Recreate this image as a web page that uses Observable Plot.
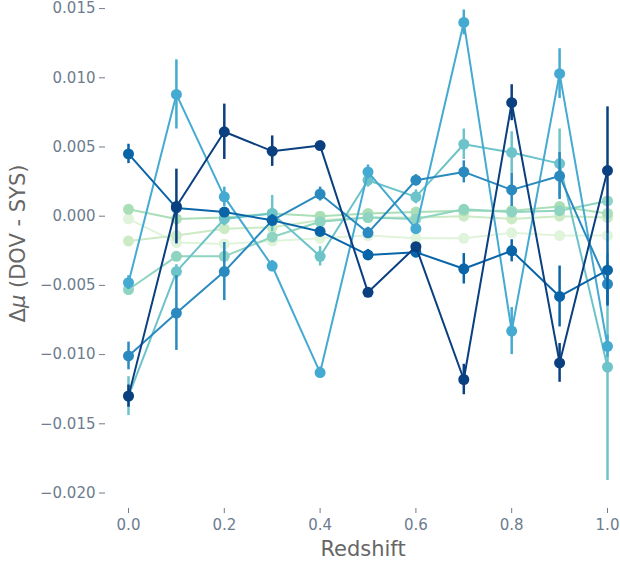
<!DOCTYPE html>
<html><head><meta charset="utf-8">
<script src="https://cdn.jsdelivr.net/npm/d3@7"></script>
<script src="https://cdn.jsdelivr.net/npm/@observablehq/plot@0.6"></script>
<style>body{margin:0;background:#fff;}</style>
</head><body><div id="chart"></div>
<script>
const redshift = [0.0, 0.1, 0.2, 0.3, 0.4, 0.5, 0.6, 0.7, 0.8, 0.9, 1.0];
const xTicks = [0.0, 0.2, 0.4, 0.6, 0.8, 1.0];
const yTicks = [-0.020, -0.015, -0.010, -0.005, 0.000, 0.005, 0.010, 0.015];
const seriesNames = ["s1", "s2", "s3", "s4", "s5", "s6", "s7", "s8", "s9"];
const seriesColors = ["#e0f3db", "#ccebc5", "#aadeb6", "#8fd4c0", "#6cc3c9", "#45aad2", "#2a8abf", "#0a65a8", "#0a3f80"];

const mu_s1 = [-0.0002, -0.0019, -0.0020, -0.0018, -0.0016, -0.0014, -0.0016, -0.0016, -0.0012, -0.0014, -0.0014];
const mu_s2 = [-0.0018, -0.0014, -0.0009, -0.0008, -0.0003, -0.0001, -0.0001, 0.0000, -0.0002, 0.0000, -0.0001];
const mu_s3 = [0.0005, -0.0002, -0.0001, 0.0002, 0.0000, 0.0002, 0.0003, 0.0004, 0.0004, 0.0007, 0.0002];
const mu_s4 = [-0.0053, -0.0029, -0.0029, -0.0015, -0.0004, -0.0001, -0.0002, 0.0005, 0.0003, 0.0004, 0.0011];
const mu_s5 = [-0.0130, -0.0040, -0.0002, 0.0002, -0.0029, 0.0026, 0.0014, 0.0052, 0.0046, 0.0038, -0.0109];
const mu_s6 = [-0.0048, 0.0088, 0.0014, -0.0036, -0.0113, 0.0032, -0.0009, 0.0140, -0.0083, 0.0103, -0.0094];
const mu_s7 = [-0.0101, -0.0070, -0.0040, -0.0003, 0.0016, -0.0012, 0.0026, 0.0032, 0.0019, 0.0029, -0.0049];
const mu_s8 = [0.0045, 0.0006, 0.0003, -0.0003, -0.0011, -0.0028, -0.0026, -0.0038, -0.0025, -0.0058, -0.0039];
const mu_s9 = [-0.0130, 0.0007, 0.0061, 0.0047, 0.0051, -0.0055, -0.0022, -0.0118, 0.0082, -0.0106, 0.0033];

const err_s1 = [0.0002, 0.0002, 0.0002, 0.0002, 0.0002, 0.0002, 0.0002, 0.0002, 0.0002, 0.0002, 0.0002];
const err_s2 = [0.0002, 0.0002, 0.0002, 0.0002, 0.0002, 0.0002, 0.0002, 0.0002, 0.0002, 0.0002, 0.0002];
const err_s3 = [0.0002, 0.0002, 0.0002, 0.0002, 0.0002, 0.0002, 0.0002, 0.0002, 0.0002, 0.0002, 0.0002];
const err_s4 = [0.0004, 0.0003, 0.0003, 0.0003, 0.0003, 0.0003, 0.0003, 0.0003, 0.0003, 0.0003, 0.0003];
const err_s5 = [0.0014, 0.0005, 0.0005, 0.0013, 0.0007, 0.0005, 0.0005, 0.0011, 0.0015, 0.0025, 0.0082];
const err_s6 = [0.0005, 0.0025, 0.0007, 0.0004, 0.0004, 0.0005, 0.0003, 0.0009, 0.0017, 0.0018, 0.0008];
const err_s7 = [0.0010, 0.0027, 0.0021, 0.0004, 0.0005, 0.0004, 0.0004, 0.0008, 0.0012, 0.0017, 0.0015];
const err_s8 = [0.0007, 0.0005, 0.0003, 0.0004, 0.0003, 0.0004, 0.0004, 0.0011, 0.0008, 0.0022, 0.0026];
const err_s9 = [0.0008, 0.0027, 0.0020, 0.0011, 0.0003, 0.0003, 0.0003, 0.0011, 0.0013, 0.0014, 0.0046];

const muLists = [mu_s1, mu_s2, mu_s3, mu_s4, mu_s5, mu_s6, mu_s7, mu_s8, mu_s9];
const errLists = [err_s1, err_s2, err_s3, err_s4, err_s5, err_s6, err_s7, err_s8, err_s9];

const rows = seriesNames.flatMap((name, k) => redshift.map((z, i) => ({
  series: name, z, mu: muLists[k][i], lo: muLists[k][i] - errLists[k][i], hi: muLists[k][i] + errLists[k][i]
})));

const tickColor = "#6d7c8e";
const seriesMarks = seriesNames.flatMap((name, k) => {
  const d = rows.filter(r => r.series === name);
  const c = seriesColors[k];
  return [
    Plot.ruleX(d, {x: "z", y1: "lo", y2: "hi", stroke: c, strokeWidth: 2.5}),
    Plot.line(d, {x: "z", y: "mu", stroke: c, strokeWidth: 2}),
    Plot.dot(d, {x: "z", y: "mu", r: 5.5, fill: c, stroke: "none"})
  ];
});

const chart = Plot.plot({
  width: 620,
  height: 565,
  marginTop: 0,
  marginLeft: 105,
  marginRight: 0,
  marginBottom: 57,
  style: {fontFamily: "DejaVu Sans", fontSize: "15px", background: "#fff", color: tickColor},
  x: {domain: [0, 1], range: [128, 607]},
  y: {domain: [-0.020, 0.015], range: [492.5, 8.1]},
  marks: [
    Plot.axisX({ticks: xTicks, tickFormat: d3.format(".1f"), tickSize: 5, tickPadding: 6, label: null, stroke: tickColor, fill: tickColor}),
    Plot.axisY({ticks: yTicks, tickFormat: d3.format(".3f"), tickSize: 6, tickPadding: 4, label: null, stroke: tickColor, fill: tickColor}),
    ...seriesMarks,
    Plot.text(["Redshift"], {frameAnchor: "bottom", dy: 47, fontSize: 21, fill: "#666666", text: d => d}),
    Plot.text(["Δμ (DOV - SYS)"], {frameAnchor: "left", textAnchor: "middle", rotate: -90, dx: -87, dy: -11, fontSize: 21, fill: "#666666", text: d => d})
  ]
});
document.getElementById("chart").appendChild(chart);
// italic mu
chart.querySelectorAll("text").forEach(t => {
  if (t.textContent === "Δμ (DOV - SYS)") {
    t.innerHTML = 'Δ<tspan font-style="italic">μ</tspan> (DOV - SYS)';
  }
});
</script>
</body></html>
